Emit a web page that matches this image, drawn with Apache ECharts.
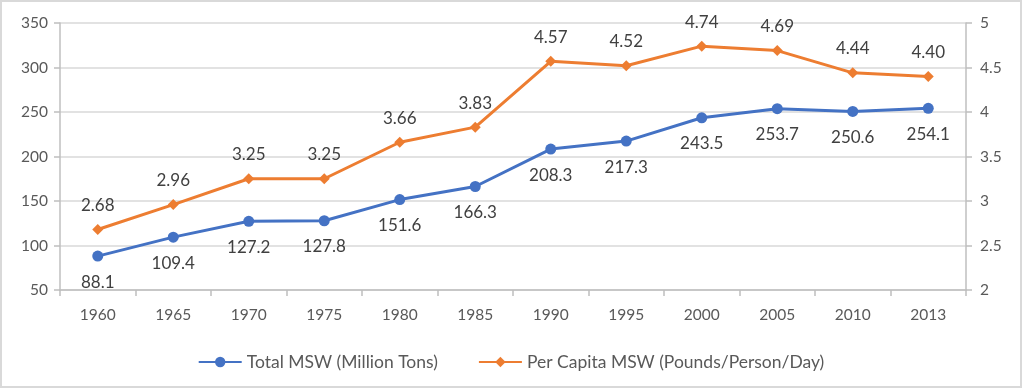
<!DOCTYPE html>
<html><head><meta charset="utf-8">
<script src="https://cdn.jsdelivr.net/npm/echarts@6/dist/echarts.min.js"></script>
<style>html,body{margin:0;padding:0;background:#fff}#c{width:1022px;height:388px;box-sizing:border-box;border:2px solid #d9d9d9}</style>
</head><body><div id="c"></div>
<script>
const categories = ['1960','1965','1970','1975','1980','1985','1990','1995','2000','2005','2010','2013'];
const totalMSW = [88.1,109.4,127.2,127.8,151.6,166.3,208.3,217.3,243.5,253.7,250.6,254.1];
const perCapita = [2.68,2.96,3.25,3.25,3.66,3.83,4.57,4.52,4.74,4.69,4.44,4.40];
const seriesNames = ['Total MSW (Million Tons)','Per Capita MSW (Pounds/Person/Day)'];

const FONT = 'Lato, "Open Sans", sans-serif';
const chart = echarts.init(document.getElementById('c'));
chart.setOption({
  animation:false,
  textStyle:{fontFamily:FONT},
  grid:{left:58,right:54,top:21,bottom:96,containLabel:false},
  legend:{top:346,left:'center',itemWidth:43,itemHeight:13,itemGap:40,
    textStyle:{color:'#595959',fontSize:17.5,fontFamily:FONT},
    data:seriesNames},
  xAxis:{type:'category',data:categories,boundaryGap:true,
    axisLine:{lineStyle:{color:'#bfbfbf',width:1.5}},
    axisTick:{show:true,length:6,lineStyle:{color:'#bfbfbf',width:1.5}},
    axisLabel:{color:'#595959',fontSize:15.5,margin:17,fontFamily:FONT}},
  yAxis:[
    {type:'value',min:50,max:350,interval:50,
     axisLine:{show:true,lineStyle:{color:'#bfbfbf',width:1.5}},
     axisTick:{show:true,length:6,lineStyle:{color:'#bfbfbf',width:1.5}},
     splitLine:{lineStyle:{color:'#d9d9d9',width:1.5}},
     axisLabel:{color:'#595959',fontSize:15.5,margin:12,fontFamily:FONT}},
    {type:'value',min:2,max:5,interval:0.5,position:'right',
     axisLine:{show:true,lineStyle:{color:'#bfbfbf',width:1.5}},
     axisTick:{show:true,length:6,lineStyle:{color:'#bfbfbf',width:1.5}},
     splitLine:{show:false},
     axisLabel:{color:'#595959',fontSize:15.5,margin:14,fontFamily:FONT}}
  ],
  series:[
    {name:seriesNames[0],type:'line',yAxisIndex:0,data:totalMSW,
     symbol:'circle',symbolSize:11,
     lineStyle:{color:'#4472C4',width:3},itemStyle:{color:'#4472C4'},
     label:{show:true,position:'bottom',distance:12,color:'#404040',fontSize:17,fontFamily:FONT,
       formatter:p=>p.value.toFixed(1)}},
    {name:seriesNames[1],type:'line',yAxisIndex:1,data:perCapita,
     symbol:'diamond',symbolSize:11,
     lineStyle:{color:'#ED7D31',width:3},itemStyle:{color:'#ED7D31'},
     label:{show:true,position:'top',distance:10,color:'#404040',fontSize:17,fontFamily:FONT,
       formatter:p=>p.value.toFixed(2)}}
  ]
});
</script></body></html>
